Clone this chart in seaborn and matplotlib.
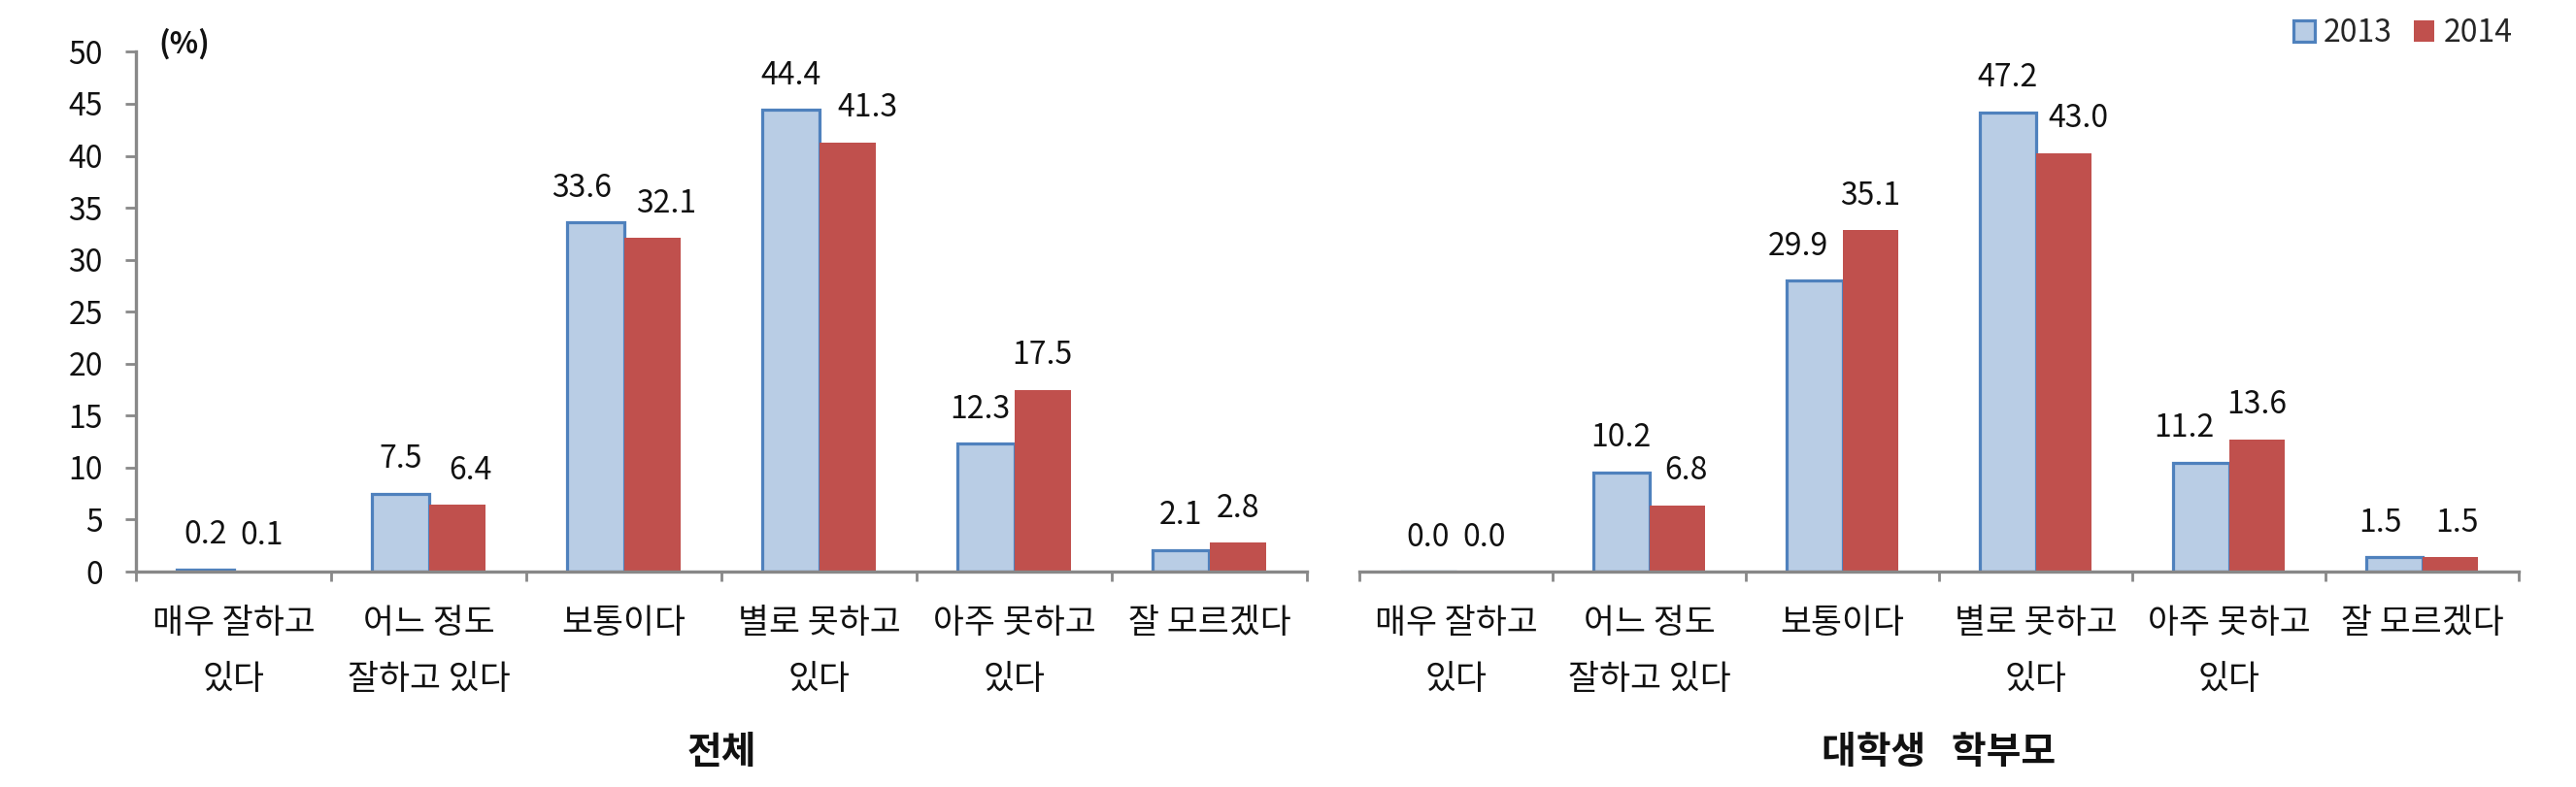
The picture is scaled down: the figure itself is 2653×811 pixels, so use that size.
import matplotlib
matplotlib.use('Agg')
import matplotlib.pyplot as plt
import seaborn as sns
import pandas as pd
from matplotlib.patches import Patch
from matplotlib.ticker import FixedLocator

# ---------------- data ----------------
categories = ['매우 잘하고\n있다', '어느 정도\n잘하고 있다', '보통이다',
              '별로 못하고\n있다', '아주 못하고\n있다', '잘 모르겠다']
years = ['2013', '2014']
total_2013 = [0.2, 7.5, 33.6, 44.4, 12.3, 2.1]
total_2014 = [0.1, 6.4, 32.1, 41.3, 17.5, 2.8]
parent_2013 = [0.0, 10.2, 29.9, 47.2, 11.2, 1.5]
parent_2014 = [0.0, 6.8, 35.1, 43.0, 13.6, 1.5]
panel_titles = ['전체', '대학생   학부모']
yticks_left = list(range(0, 51, 5))
unit_label = '(%)'

# manual horizontal nudges of value labels (pixels), as in the original
nudge_total = ([0, 0, -14, 0, -6, 0], [0, 14, 15, 21, 0, 0])
nudge_parent = ([0, 0, -17, 0, -17, -14], [0, 9, 0, 15, 0, 7])

# ---------------- style ----------------
sns.set_theme(style='white')
plt.rcParams['font.family'] = ['Noto Sans CJK KR', 'DejaVu Sans']

c13_face = '#B9CDE5'
c13_edge = '#4F81BD'
c14_face = '#C0504D'
axis_grey = '#888888'
txt = '#111111'

W, H = 2653, 811
fig = plt.figure(figsize=(W / 100, H / 100), dpi=100)
fig.patch.set_facecolor('white')

ax_bottom = 1 - 589 / H
ax_height = (589 - 53.4) / H
axL = fig.add_axes([140 / W, ax_bottom, 1206 / W, ax_height])
axR = fig.add_axes([1400 / W, ax_bottom, 1194 / W, ax_height])


def make_df(v13, v14):
    return pd.DataFrame({
        'category': categories * 2,
        'year': [years[0]] * len(categories) + [years[1]] * len(categories),
        'value': list(v13) + list(v14),
    })


panels = [(axL, make_df(total_2013, total_2014), 50.0, True, nudge_total),
          (axR, make_df(parent_2013, parent_2014), 53.4, False, nudge_parent)]

for ax, df, ymax, show_y, nudges in panels:
    sns.barplot(data=df, x='category', y='value', hue='year', order=categories,
                hue_order=years, palette=[c13_face, c14_face], width=0.58,
                saturation=1, legend=False, ax=ax, errorbar=None)
    for bar in ax.containers[0]:
        bar.set_edgecolor(c13_edge)
        bar.set_linewidth(2.3)
    for bar in ax.containers[1]:
        bar.set_edgecolor('none')
        bar.set_linewidth(0)
    for cont, nudge in zip(ax.containers, nudges):
        anns = ax.bar_label(cont, fmt='%.1f', padding=14, fontsize=23, color=txt)
        for ann, dx in zip(anns, nudge):
            ann.xyann = (dx * 0.72, ann.xyann[1])

    ax.set_xlim(-0.5, len(categories) - 0.5)
    ax.set_ylim(0, ymax)
    ax.set_xlabel('')
    ax.set_ylabel('')
    ax.set_facecolor('none')

    for s in ['top', 'right']:
        ax.spines[s].set_visible(False)
    ax.spines['bottom'].set_color(axis_grey)
    ax.spines['bottom'].set_linewidth(2.4)

    # category labels at centres, ticks at category boundaries
    ax.tick_params(axis='x', which='major', length=0, pad=26, labelsize=25,
                   colors=txt)
    ax.xaxis.set_minor_locator(FixedLocator([i - 0.5 for i in range(len(categories) + 1)]))
    ax.tick_params(axis='x', which='minor', length=7.5, width=2.0, color=axis_grey,
                   direction='out', bottom=True)
    for lab in ax.get_xticklabels():
        lab.set_linespacing(1.85)

    if show_y:
        ax.spines['left'].set_color(axis_grey)
        ax.spines['left'].set_linewidth(2.4)
        ax.set_yticks(yticks_left)
        ax.tick_params(axis='y', which='major', length=8, width=2.0,
                       color=axis_grey, direction='out', left=True, pad=16.5,
                       labelsize=23, labelcolor=txt)
    else:
        ax.spines['left'].set_visible(False)
        ax.set_yticks([])

# panel titles
fig.text((140 + 1346) / 2 / W, 1 - 775.5 / H, panel_titles[0], ha='center',
         va='center', fontsize=28, fontweight='bold', color=txt)
fig.text((1400 + 2594) / 2 / W, 1 - 775.5 / H, panel_titles[1], ha='center',
         va='center', fontsize=28, fontweight='bold', color=txt)

# unit label
fig.text(163 / W, 1 - 45.5 / H, unit_label, ha='left', va='center', fontsize=22,
         fontweight='bold', color=txt)

# legend
handles = [Patch(facecolor=c13_face, edgecolor=c13_edge, linewidth=2.3),
           Patch(facecolor=c14_face, edgecolor='none')]
fig.legend(handles=handles, labels=years, ncol=2, loc='center right',
           bbox_to_anchor=(2588 / W, 1 - 34 / H), frameon=False, fontsize=23,
           handlelength=0.66, handleheight=0.66, handletextpad=0.3,
           columnspacing=0.7, borderaxespad=0, borderpad=0)

fig.savefig('out.png', dpi=100, facecolor='white')
